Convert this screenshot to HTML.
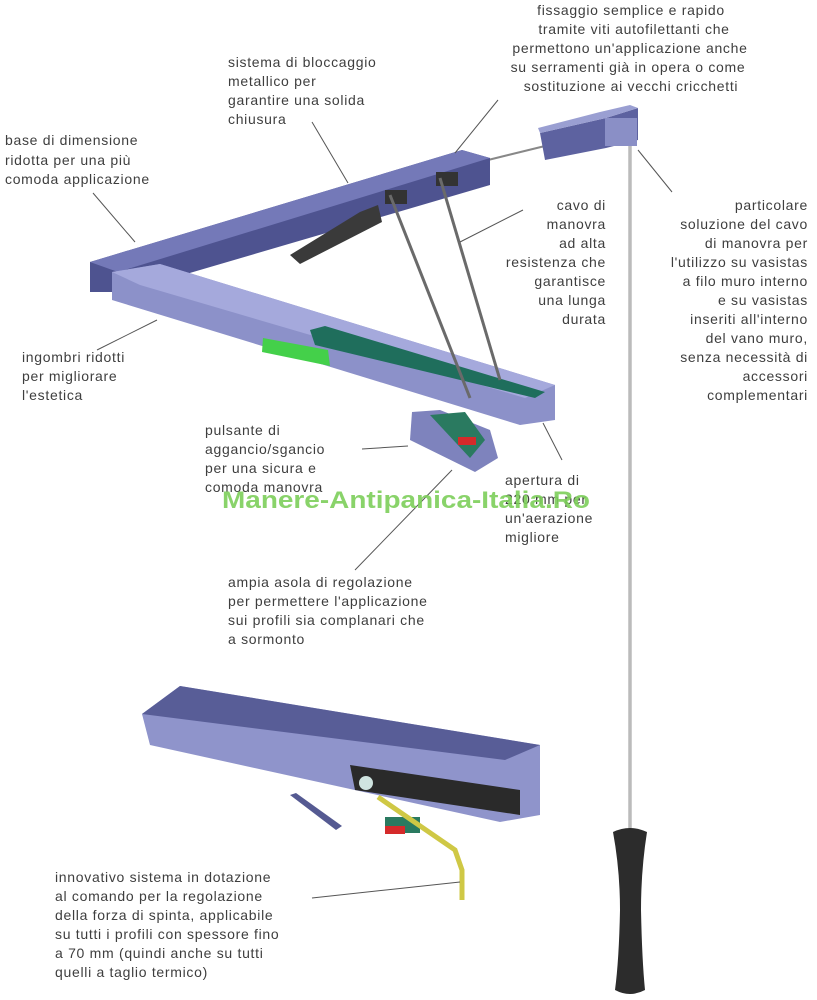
<!DOCTYPE html>
<html><head><meta charset="utf-8"><style>
html,body{margin:0;padding:0;background:#fff;}
svg{display:block;}
text{font-family:"Liberation Sans",sans-serif;font-size:14px;fill:#3e3e3e;letter-spacing:0.7px;}
.w{font-size:24px;font-weight:bold;fill:#7dcf5a;letter-spacing:0;opacity:0.9;}
.l{stroke:#555;stroke-width:1;fill:none;}
</style></head><body>
<svg width="817" height="1000" viewBox="0 0 817 1000">
<line x1="630" y1="140" x2="630" y2="830" stroke="#999" stroke-width="3"/>
<line x1="630" y1="140" x2="630" y2="830" stroke="#ddd" stroke-width="1"/>
<path d="M613,832 Q630,824 647,832 Q641,870 641,910 Q642,960 645,990 Q630,998 615,990 Q619,960 620,910 Q620,870 613,832Z" fill="#2c2c2c"/>
<line x1="488" y1="160" x2="545" y2="146" stroke="#888" stroke-width="2"/>
<polygon points="540,133 606,118 638,108 638,140 606,148 545,160" fill="#5d62a0"/>
<polygon points="540,133 606,118 638,108 630,105 600,112 538,128" fill="#9a9fd2"/>
<rect x="605" y="118" width="32" height="28" fill="#8a8fc6"/>
<polygon points="90,262 462,150 490,158 490,185 125,292 90,292" fill="#4e5390"/>
<polygon points="90,262 462,150 490,158 118,272" fill="#7479b8"/>
<polygon points="290,255 360,212 378,205 382,222 300,264" fill="#3a3a3a"/>
<rect x="385" y="190" width="22" height="14" fill="#333"/>
<rect x="436" y="172" width="22" height="14" fill="#333"/>
<polygon points="112,272 160,264 555,385 555,420 520,425 112,300" fill="#8c91c9"/>
<polygon points="112,272 160,264 555,385 525,398 140,285" fill="#a5a9dc"/>
<polygon points="310,330 325,326 545,392 535,398 315,345" fill="#1f6e5c"/>
<polygon points="263,338 328,350 330,366 262,352" fill="#44d04a"/>
<line x1="390" y1="195" x2="470" y2="398" stroke="#6a6a6a" stroke-width="3"/>
<line x1="440" y1="178" x2="500" y2="380" stroke="#6a6a6a" stroke-width="3"/>
<polygon points="412,412 440,410 490,430 498,458 475,472 410,440" fill="#7e83bd"/>
<polygon points="430,415 465,412 485,440 470,458" fill="#2a7a60"/>
<rect x="458" y="437" width="18" height="8" fill="#d52a2a"/>
<polygon points="142,714 180,686 540,745 540,815 500,822 150,745" fill="#8f94cb"/>
<polygon points="142,714 180,686 540,745 505,760" fill="#585d97"/>
<polygon points="350,765 520,790 520,815 355,790" fill="#2a2a2a"/>
<circle cx="366" cy="783" r="7" fill="#cfe4e0"/>
<polygon points="290,795 296,793 342,826 336,830" fill="#555a92"/>
<rect x="385" y="817" width="35" height="16" fill="#2a7a60"/>
<rect x="385" y="826" width="20" height="8" fill="#d52a2a"/>
<polyline points="378,797 455,850 462,870 462,900" stroke="#cfc845" stroke-width="5" fill="none"/>
<line class="l" x1="93" y1="193" x2="135" y2="242"/>
<line class="l" x1="312" y1="122" x2="348" y2="183"/>
<line class="l" x1="498" y1="100" x2="455" y2="153"/>
<line class="l" x1="523" y1="210" x2="460" y2="242"/>
<line class="l" x1="638" y1="150" x2="672" y2="192"/>
<line class="l" x1="157" y1="320" x2="97" y2="350"/>
<line class="l" x1="362" y1="449" x2="408" y2="446"/>
<line class="l" x1="543" y1="423" x2="562" y2="460"/>
<line class="l" x1="355" y1="570" x2="452" y2="470"/>
<line class="l" x1="312" y1="898" x2="460" y2="882"/>
<g text-anchor="middle">
<text x="631" y="15">fissaggio semplice e rapido</text>
<text x="634" y="34">tramite viti autofilettanti che</text>
<text x="630" y="53">permettono un'applicazione anche</text>
<text x="628" y="72">su serramenti già in opera o come</text>
<text x="631" y="91">sostituzione ai vecchi cricchetti</text>
</g>
<text x="228" y="67">sistema di bloccaggio</text>
<text x="228" y="86">metallico per</text>
<text x="228" y="105">garantire una solida</text>
<text x="228" y="124">chiusura</text>
<text x="5" y="145">base di dimensione</text>
<text x="5" y="165">ridotta per una più</text>
<text x="5" y="184">comoda applicazione</text>
<g text-anchor="end">
<text x="606" y="210">cavo di</text>
<text x="606" y="229">manovra</text>
<text x="606" y="248">ad alta</text>
<text x="606" y="267">resistenza che</text>
<text x="606" y="286">garantisce</text>
<text x="606" y="305">una lunga</text>
<text x="606" y="324">durata</text>
<text x="808" y="210">particolare</text>
<text x="808" y="229">soluzione del cavo</text>
<text x="808" y="248">di manovra per</text>
<text x="808" y="267">l'utilizzo su  vasistas</text>
<text x="808" y="286">a filo muro interno</text>
<text x="808" y="305">e su vasistas</text>
<text x="808" y="324">inseriti  all'interno</text>
<text x="808" y="343">del vano muro,</text>
<text x="808" y="362">senza  necessità di</text>
<text x="808" y="381">accessori</text>
<text x="808" y="400">complementari</text>
</g>
<text x="22" y="362">ingombri ridotti</text>
<text x="22" y="381">per migliorare</text>
<text x="22" y="400">l'estetica</text>
<text x="205" y="435">pulsante di</text>
<text x="205" y="454">aggancio/sgancio</text>
<text x="205" y="473">per una sicura e</text>
<text x="205" y="492">comoda manovra</text>
<text x="505" y="485">apertura di</text>
<text x="505" y="504">220 mm per</text>
<text x="505" y="523">un'aerazione</text>
<text x="505" y="542">migliore</text>
<text class="w" x="222" y="508" textLength="368" lengthAdjust="spacingAndGlyphs">Manere-Antipanica-Italia.Ro</text>
<text x="228" y="587">ampia asola di regolazione</text>
<text x="228" y="606">per permettere l'applicazione</text>
<text x="228" y="625">sui profili sia complanari che</text>
<text x="228" y="644">a sormonto</text>
<text x="55" y="882">innovativo sistema in dotazione</text>
<text x="55" y="901">al comando per la regolazione</text>
<text x="55" y="920">della forza di spinta, applicabile</text>
<text x="55" y="939">su tutti i profili con spessore fino</text>
<text x="55" y="958">a 70 mm (quindi anche su tutti</text>
<text x="55" y="977">quelli a taglio termico)</text>
</svg>
</body></html>
